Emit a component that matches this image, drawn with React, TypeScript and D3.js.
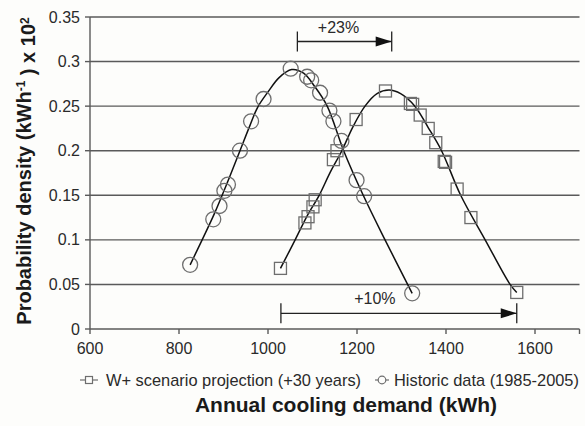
import React from "react";
import * as d3 from "d3";

const W = 585;
const H = 426;

// X ticks and Y ticks
const xTicks = [600, 800, 1000, 1200, 1400, 1600];
const yTicks = [0, 0.05, 0.1, 0.15, 0.2, 0.25, 0.3, 0.35];

// Historic data (1985-2005) – scatter points [demand kWh, density]
const historicX = [825, 877, 891, 902, 910, 937, 962, 990, 1051, 1088, 1097, 1117, 1138, 1147, 1165, 1199, 1216, 1324];
const historicY = [0.072, 0.123, 0.138, 0.155, 0.162, 0.2, 0.233, 0.258, 0.292, 0.283, 0.279, 0.265, 0.245, 0.233, 0.211, 0.167, 0.149, 0.04];

// W+ scenario projection (+30 years) – scatter points
const scenarioX = [1028, 1083, 1090, 1101, 1106, 1147, 1155, 1198, 1264, 1320, 1325, 1342, 1360, 1377, 1396, 1399, 1425, 1456, 1559];
const scenarioY = [0.068, 0.119, 0.126, 0.137, 0.145, 0.19, 0.2, 0.235, 0.267, 0.253, 0.252, 0.24, 0.225, 0.209, 0.188, 0.187, 0.157, 0.125, 0.041];

// Fitted curves
const historicFitX = [825, 852, 880, 910, 937, 960, 977, 1000, 1025, 1053, 1080, 1105, 1133, 1170, 1214, 1263, 1324];
const historicFitY = [0.072, 0.1, 0.13, 0.166, 0.2, 0.229, 0.249, 0.266, 0.282, 0.291, 0.287, 0.272, 0.25, 0.2, 0.15, 0.1, 0.04];
const scenarioFitX = [1028, 1061, 1088, 1115, 1140, 1166, 1190, 1218, 1245, 1272, 1298, 1330, 1360, 1390, 1433, 1488, 1544, 1559];
const scenarioFitY = [0.068, 0.1, 0.127, 0.15, 0.176, 0.2, 0.226, 0.25, 0.264, 0.268, 0.264, 0.25, 0.226, 0.2, 0.15, 0.1, 0.05, 0.041];

// Annotations: [label, x start, x end, y]
const annoLabels = ["+23%", "+10%"];
const annoStart = [1066, 1029];
const annoEnd = [1278, 1559];
const annoY = [0.3225, 0.0176];

const legendLabels = ["W+ scenario projection (+30 years)", "Historic data (1985-2005)"];

const FONT = "'Liberation Sans', Arial, Helvetica, sans-serif";

export default function App() {
  const x = d3.scaleLinear().domain([600, 1700]).range([90, 579.5]);
  const y = d3.scaleLinear().domain([0, 0.35]).range([329, 17]);

  const line = d3
    .line<[number, number]>()
    .x((d) => x(d[0]))
    .y((d) => y(d[1]))
    .curve(d3.curveCatmullRom.alpha(0.5));

  const hFit: [number, number][] = historicFitX.map((v, i) => [v, historicFitY[i]]);
  const sFit: [number, number][] = scenarioFitX.map((v, i) => [v, scenarioFitY[i]]);

  const gridColor = "#5a5a5a";
  const markColor = "#6e6e6e";
  const textColor = "#2a2a2a";

  return (
    <svg
      width={W}
      height={H}
      style={{ position: "absolute", left: 0, top: 0, background: "#fdfdfb" }}
      fontFamily={FONT}
    >
      <rect x={0} y={0} width={W} height={H} fill="#fdfdfb" />
      {/* gridlines */}
      {yTicks.map((t) => (
        <g key={"g" + t}>
          <line x1={x(600)} x2={x(1700)} y1={y(t)} y2={y(t)} stroke={gridColor} strokeWidth={1.4} />
          <line x1={x(600) - 5} x2={x(600)} y1={y(t)} y2={y(t)} stroke={gridColor} strokeWidth={1.4} />
          <text x={80} y={y(t)} dy="0.35em" textAnchor="end" fontSize={16} fill={textColor}>
            {String(t)}
          </text>
        </g>
      ))}
      {/* axes */}
      <line x1={x(600)} x2={x(600)} y1={y(0)} y2={y(0.35)} stroke={gridColor} strokeWidth={1.4} />
      {xTicks.map((t) => (
        <g key={"x" + t}>
          <line x1={x(t)} x2={x(t)} y1={y(0)} y2={y(0) + 5} stroke={gridColor} strokeWidth={1.4} />
          <text x={x(t)} y={348} dy="0.35em" textAnchor="middle" fontSize={16} fill={textColor}>
            {t}
          </text>
        </g>
      ))}
      <line x1={x(1700)} x2={x(1700)} y1={y(0)} y2={y(0) + 5} stroke={gridColor} strokeWidth={1.4} />

      {/* fitted curves */}
      <path d={line(hFit) || ""} fill="none" stroke="#111" strokeWidth={1.5} />
      <path d={line(sFit) || ""} fill="none" stroke="#111" strokeWidth={1.5} />

      {/* markers */}
      {historicX.map((v, i) => (
        <circle key={"c" + i} cx={x(v)} cy={y(historicY[i])} r={7.5} fill="none" stroke={markColor} strokeWidth={1.3} />
      ))}
      {scenarioX.map((v, i) => (
        <rect
          key={"s" + i}
          x={x(v) - 6}
          y={y(scenarioY[i]) - 6}
          width={12}
          height={12}
          fill="none"
          stroke={markColor}
          strokeWidth={1.3}
        />
      ))}

      {/* annotations */}
      {annoLabels.map((lab, i) => {
        const x0 = x(annoStart[i]);
        const x1 = x(annoEnd[i]);
        const yy = y(annoY[i]);
        return (
          <g key={"a" + i}>
            <line x1={x0} x2={x1} y1={yy} y2={yy} stroke="#222" strokeWidth={1.3} />
            <line x1={x0} x2={x0} y1={yy - 10} y2={yy + 10} stroke="#222" strokeWidth={1.3} />
            <line x1={x1} x2={x1} y1={yy - 10} y2={yy + 10} stroke="#222" strokeWidth={1.3} />
            <path d={`M${x1},${yy} L${x1 - 16},${yy - 5} L${x1 - 16},${yy + 5} Z`} fill="#111" />
            <text x={(x0 + x1) / 2 + (i === 0 ? -6 : -24)} y={yy - 9} textAnchor="middle" fontSize={16} fill={textColor}>
              {lab}
            </text>
          </g>
        );
      })}

      {/* legend */}
      <g>
        <line x1={80} x2={98} y1={380} y2={380} stroke={markColor} strokeWidth={1.2} />
        <rect x={85.5} y={376.5} width={7} height={7} fill="#fdfdfb" stroke={markColor} strokeWidth={1.2} />
        <text x={106} y={380} dy="0.35em" fontSize={16.4} fill={textColor}>
          {legendLabels[0]}
        </text>
        <line x1={375} x2={389} y1={380} y2={380} stroke={markColor} strokeWidth={1.2} />
        <circle cx={382} cy={380} r={3.8} fill="#fdfdfb" stroke={markColor} strokeWidth={1.2} />
        <text x={394} y={380} dy="0.35em" fontSize={16.4} fill={textColor}>
          {legendLabels[1]}
        </text>
      </g>

      {/* axis titles */}
      <text x={346} y={405} dy="0.35em" textAnchor="middle" fontSize={21} fontWeight="bold" fill="#1a1a1a">
        Annual cooling demand (kWh)
      </text>
      <text
        transform="translate(24,171) rotate(-90)"
        textAnchor="middle"
        dy="0.35em"
        fontSize={20}
        fontWeight="bold"
        fill="#1a1a1a"
      >
        Probability density (kWh
        <tspan dy="-0.5em" fontSize={12}>-1</tspan>
        <tspan dy="0.5em"> ) x 10</tspan>
        <tspan dy="-0.5em" fontSize={12}>2</tspan>
      </text>
    </svg>
  );
}
